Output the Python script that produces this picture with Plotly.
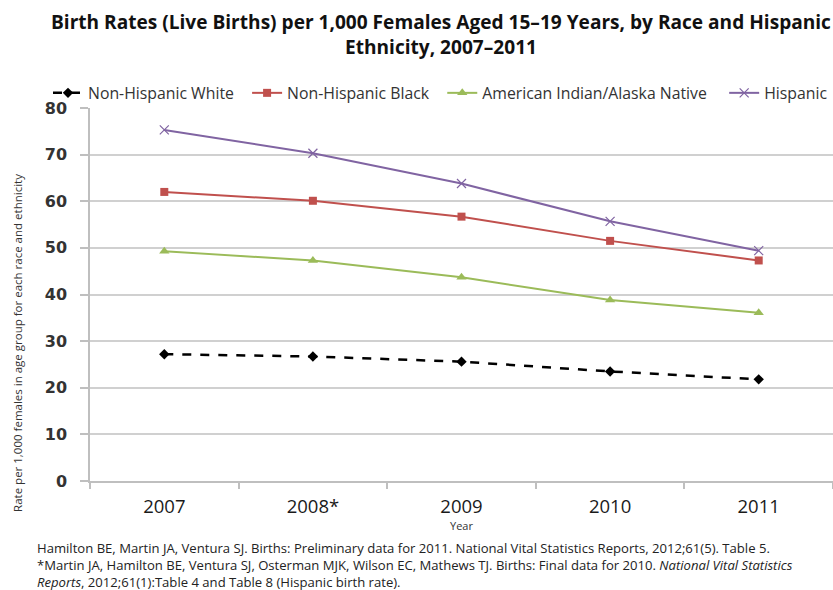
import plotly.graph_objects as go

years = ["2007", "2008*", "2009", "2010", "2011"]
white = [27.2, 26.7, 25.6, 23.5, 21.8]
black = [62.0, 60.1, 56.7, 51.5, 47.3]
aian = [49.3, 47.3, 43.7, 38.8, 36.1]
hispanic = [75.3, 70.3, 63.8, 55.7, 49.4]

FONT = "Open Sans"
PAD = "\u00a0\u00a0"
fig = go.Figure()
fig.add_trace(go.Scatter(x=years, y=white, name="Non-Hispanic White" + PAD, mode="lines+markers",
                         line=dict(color="#000000", width=2.5, dash="dash"),
                         marker=dict(symbol="diamond", size=8, color="#000000")))
fig.add_trace(go.Scatter(x=years, y=black, name="Non-Hispanic Black" + PAD, mode="lines+markers",
                         line=dict(color="#C0504D", width=2),
                         marker=dict(symbol="square", size=8, color="#C0504D")))
fig.add_trace(go.Scatter(x=years, y=aian, name="American Indian/Alaska Native" + PAD + "\u00a0", mode="lines+markers",
                         line=dict(color="#9BBB59", width=2),
                         marker=dict(symbol="triangle-up", size=9, color="#9BBB59")))
fig.add_trace(go.Scatter(x=years, y=hispanic, name="Hispanic", mode="lines+markers",
                         line=dict(color="#8064A2", width=2),
                         marker=dict(symbol="x-thin", size=9, color="#8064A2",
                                     line=dict(color="#8064A2", width=1.2))))

fig.update_layout(
    width=833, height=590,
    margin=dict(l=90, r=0, t=108, b=109),
    paper_bgcolor="white", plot_bgcolor="white",
    font=dict(family=FONT, color="#222222"),
    legend=dict(orientation="h", x=-0.047, xanchor="left", y=1.04, yanchor="middle",
                font=dict(family=FONT, size=15.8, color="#333333"),
                bgcolor="rgba(0,0,0,0)", itemwidth=30, tracegroupgap=0),
    showlegend=True,
)
fig.add_annotation(text="<b>Birth Rates (Live Births) per 1,000 Females Aged 15–19 Years, by Race and Hispanic<br>Ethnicity, 2007–2011</b>",
                   xref="paper", yref="paper", x=0.4725, y=1.196, xanchor="center", yanchor="middle",
                   showarrow=False, align="center",
                   font=dict(family=FONT, size=19.1, color="#111111"))
fig.update_xaxes(type="category", tickson="boundaries", ticks="outside", ticklen=6,
                 tickcolor="#BFBFBF", tickwidth=1.5, showgrid=False, showline=True,
                 linecolor="#BFBFBF", linewidth=1.5, range=[-0.5, 4.5],
                 tickfont=dict(family=FONT, size=18.5, color="#1a1a1a"), ticklabelstandoff=8)
fig.update_yaxes(range=[0, 80], dtick=10, showgrid=True, gridcolor="#D0D0D0", gridwidth=1.5,
                 ticks="outside", ticklen=8, tickcolor="#BFBFBF", tickwidth=1.5,
                 showline=True, linecolor="#BFBFBF", linewidth=1.5, zeroline=False,
                 tickfont=dict(family="DejaVu Sans", size=16, color="#333333", weight="bold"),
                 ticklabelstandoff=10)

fig.add_annotation(text="Rate per 1,000 females in age group for each race and ethnicity",
                   textangle=-90, xref="paper", yref="paper", x=-0.097, y=0.37,
                   xanchor="center", yanchor="middle", showarrow=False,
                   font=dict(family=FONT, size=11.5, color="#333333"))
fig.add_annotation(text="Year", xref="paper", yref="paper", x=0.5, y=-0.118,
                   xanchor="center", yanchor="middle", showarrow=False,
                   font=dict(family=FONT, size=11, color="#333333"))

foot = [
    "Hamilton BE, Martin JA, Ventura SJ. Births: Preliminary data for 2011. National Vital Statistics Reports, 2012;61(5). Table 5.",
    "*Martin JA, Hamilton BE, Ventura SJ, Osterman MJK, Wilson EC, Mathews TJ. Births: Final data for 2010. <i>National Vital Statistics</i>",
    "<i>Reports</i>, 2012;61(1):Table 4 and Table 8 (Hispanic birth rate).",
]
fig.add_annotation(text="<br>".join(foot), xref="paper", yref="paper", x=-0.074, y=-0.226,
                   xanchor="left", yanchor="middle", showarrow=False, align="left",
                   font=dict(family=FONT, size=13.1, color="#222222"))

fig.write_html("out.html")
